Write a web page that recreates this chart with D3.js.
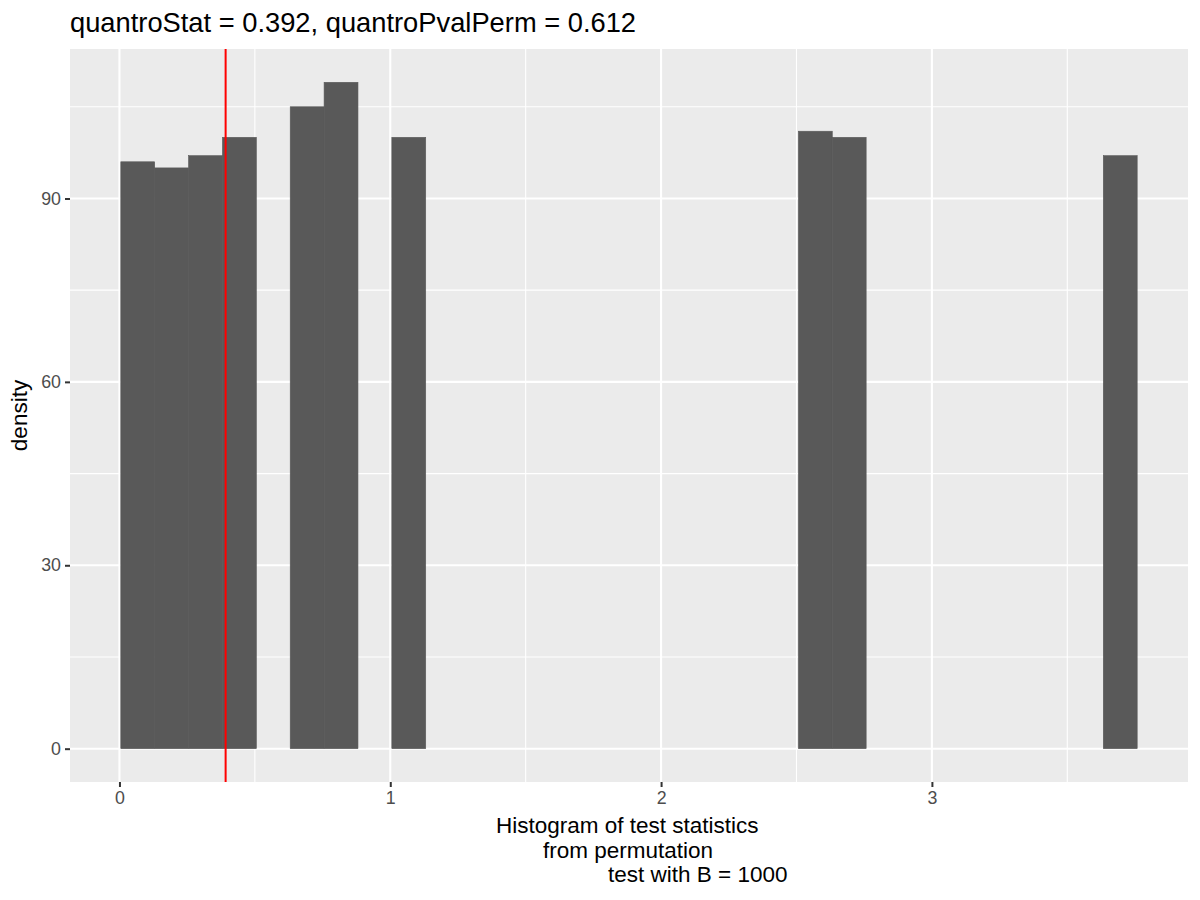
<!DOCTYPE html>
<html>
<head>
<meta charset="utf-8">
<script src="https://cdn.jsdelivr.net/npm/d3@7"></script>
<style>
  body { margin: 0; background: #fff; }
  text { font-family: "Liberation Sans", Arial, Helvetica, sans-serif; }
</style>
</head>
<body>
<div id="chart"></div>
<script>
// histogram bins (density per bin, 0 = empty bin)
const binStart = 0.005;
const binWidth = 0.1251;
const densities = [96, 95, 97, 100, 0, 105, 109, 0, 100, 0,
                   0, 0, 0, 0, 0, 0, 0, 0, 0, 0,
                   101, 100, 0, 0, 0, 0, 0, 0, 0, 97];
const quantroStat = 0.392;
const titleText = "quantroStat = 0.392, quantroPvalPerm = 0.612";
const xTicks = [0, 1, 2, 3];
const xMinor = [0.5, 1.5, 2.5, 3.5];
const yTicks = [0, 30, 60, 90];
const yMinor = [15, 45, 75, 105];
const xTitleLines = ["Histogram of test statistics", "from permutation", "test with B = 1000"];

const width = 1200, height = 900;
const margin = { top: 49, right: 12, bottom: 118, left: 70 };
const pw = width - margin.left - margin.right;
const ph = height - margin.top - margin.bottom;

const bins = densities.map((d, i) => ({
  x0: binStart + i * binWidth,
  x1: binStart + (i + 1) * binWidth,
  y: d
}));

// ggplot-style 5% expansion
const xLo = binStart, xHi = binStart + densities.length * binWidth;
const xPad = (xHi - xLo) * 0.05;
const yMax = d3.max(densities);
const yPad = yMax * 0.05;

const x = d3.scaleLinear().domain([xLo - xPad, xHi + xPad]).range([0, pw]);
const y = d3.scaleLinear().domain([-yPad, yMax + yPad]).range([ph, 0]);

const svg = d3.select('#chart')
  .append('svg')
  .attr('width', width)
  .attr('height', height);

svg.append('text')
  .attr('x', margin.left)
  .attr('y', 32)
  .attr('font-size', 27.3)
  .attr('fill', '#000')
  .text(titleText);

const g = svg.append('g')
  .attr('transform', `translate(${margin.left},${margin.top})`);

g.append('rect')
  .attr('width', pw)
  .attr('height', ph)
  .attr('fill', '#EBEBEB');

// minor grid
g.selectAll('.xminor').data(xMinor).enter().append('line')
  .attr('x1', d => x(d)).attr('x2', d => x(d))
  .attr('y1', 0).attr('y2', ph)
  .attr('stroke', '#fff').attr('stroke-width', 1.1);
g.selectAll('.yminor').data(yMinor).enter().append('line')
  .attr('x1', 0).attr('x2', pw)
  .attr('y1', d => y(d)).attr('y2', d => y(d))
  .attr('stroke', '#fff').attr('stroke-width', 1.1);

// major grid
g.selectAll('.xmajor').data(xTicks).enter().append('line')
  .attr('x1', d => x(d)).attr('x2', d => x(d))
  .attr('y1', 0).attr('y2', ph)
  .attr('stroke', '#fff').attr('stroke-width', 2.1);
g.selectAll('.ymajor').data(yTicks).enter().append('line')
  .attr('x1', 0).attr('x2', pw)
  .attr('y1', d => y(d)).attr('y2', d => y(d))
  .attr('stroke', '#fff').attr('stroke-width', 2.1);

// bars
g.selectAll('.bar')
  .data(bins.filter(b => b.y > 0))
  .enter()
  .append('rect')
  .attr('x', d => x(d.x0))
  .attr('width', d => x(d.x1) - x(d.x0))
  .attr('y', d => y(d.y))
  .attr('height', d => y(0) - y(d.y))
  .attr('fill', '#595959')
  .attr('stroke', '#595959')
  .attr('stroke-width', 0.6);

// observed statistic
g.append('line')
  .attr('x1', x(quantroStat)).attr('x2', x(quantroStat))
  .attr('y1', 0).attr('y2', ph)
  .attr('stroke', '#FF0000').attr('stroke-width', 2);

// axes
const xAxis = g.append('g')
  .attr('transform', `translate(0,${ph})`)
  .call(d3.axisBottom(x).tickValues(xTicks).tickFormat(d3.format('d')).tickSize(5).tickPadding(4));
const yAxis = g.append('g')
  .call(d3.axisLeft(y).tickValues(yTicks).tickSize(5).tickPadding(4));
[xAxis, yAxis].forEach(a => {
  a.select('.domain').remove();
  a.selectAll('line').attr('stroke', '#333333').attr('stroke-width', 2);
  a.selectAll('text').attr('fill', '#4D4D4D').attr('font-size', 17.8)
    .style('font-family', '"Liberation Sans", Arial, sans-serif');
});

// axis titles
const xTitleX = [496, 543, 608];
xTitleLines.forEach((t, i) => {
  svg.append('text')
    .attr('x', xTitleX[i])
    .attr('y', 833 + i * 24.5)
    .attr('font-size', 22.5)
    .attr('fill', '#000')
    .text(t);
});

svg.append('text')
  .attr('transform', `translate(27,${margin.top + ph / 2}) rotate(-90)`)
  .attr('text-anchor', 'middle')
  .attr('font-size', 22.5)
  .attr('fill', '#000')
  .text('density');
</script>
</body>
</html>
